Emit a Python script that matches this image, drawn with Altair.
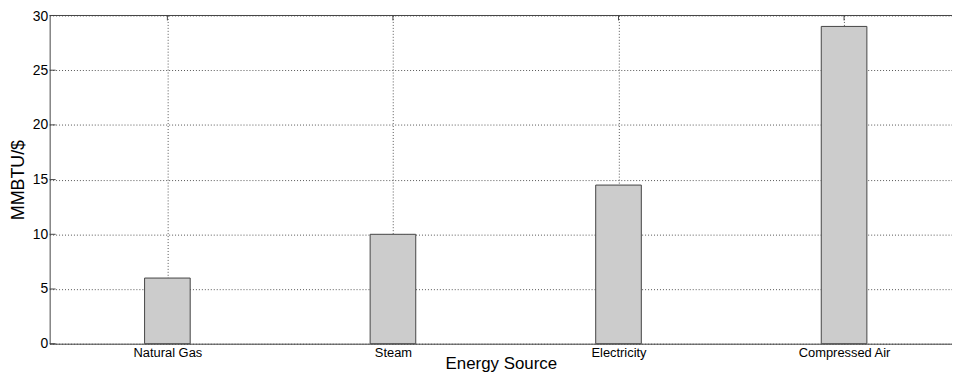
import json
import altair as alt
import pandas as pd

# ---- data ----
categories = ["Natural Gas", "Steam", "Electricity", "Compressed Air"]
values = [6, 10, 14.5, 29]
y_ticks = [0, 5, 10, 15, 20, 25, 30]

positions = list(range(1, len(categories) + 1))
df = pd.DataFrame({"source": categories, "value": values, "pos": positions})
yt_df = pd.DataFrame({"value": y_ticks})
top_df = pd.DataFrame({"value": [max(y_ticks)]})

FONT = "Liberation Sans"
W, H = 910, 331
PAD = {"left": 42, "top": 6, "right": 0, "bottom": 29}
PX_PER_UNIT = 230

x_scale = alt.Scale(domain=[0.5, 0.5 + W / PX_PER_UNIT], nice=False, zero=False)
y_scale = alt.Scale(domain=[0, 30], nice=False)

label_expr = json.dumps(categories) + "[datum.value - 1]"

x_axis = alt.Axis(
    values=positions,
    labelExpr=label_expr,
    title="Energy Source",
    grid=True,
    gridDash=[1, 2],
    gridColor="#555",
    gridWidth=1,
    ticks=False,
    domainColor="#444",
    labelFontSize=13,
    labelPadding=3,
    labelFlush=False,
    labelBaseline="top",
    titleFontSize=17,
    titleFontWeight="normal",
    titleY=25,
    titleBaseline="alphabetic",
)

y_axis = alt.Axis(
    values=y_ticks,
    title="MMBTU/$",
    grid=True,
    gridDash=[1, 2],
    gridColor="#555",
    gridWidth=1,
    ticks=False,
    domainColor="#444",
    labelFontSize=14,
    labelPadding=2,
    labelOffset={"condition": {"test": "datum.value == 30", "value": 1}, "value": 0},
    titleFontSize=18,
    titleFontWeight="normal",
    titleX=-31,
    titleY=H / 2,
    titleBaseline="middle",
)

X = alt.X("pos:Q", scale=x_scale, axis=x_axis)
Y = alt.Y("value:Q", scale=y_scale, axis=y_axis)

bars = alt.Chart(df).mark_bar(
    size=46, fill="#cccccc", stroke="#444", strokeWidth=1
).encode(x=X, y=Y)

y_tick_marks = alt.Chart(yt_df).mark_rule(color="#444", strokeWidth=1).encode(
    y=Y,
    x=alt.value(0),
    x2=alt.value(6),
)

top_tick_marks = alt.Chart(df).mark_rule(color="#444", strokeWidth=1).encode(
    x=X,
    y=alt.value(0),
    y2=alt.value(5),
)

top_border = alt.Chart(top_df).mark_rule(color="#444", strokeWidth=1).encode(
    y=Y,
    x=alt.value(0),
    x2=alt.value(W),
)

chart = alt.layer(bars, y_tick_marks, top_tick_marks, top_border).properties(
    width=W,
    height=H,
    autosize=alt.AutoSizeParams(type="none"),
    padding=PAD,
    background="white",
).configure_view(
    stroke=None
).configure_axis(
    labelFont=FONT,
    titleFont=FONT,
    labelColor="black",
    titleColor="black",
)

chart.save("out.html", embed_options={"renderer": "svg", "actions": False})
